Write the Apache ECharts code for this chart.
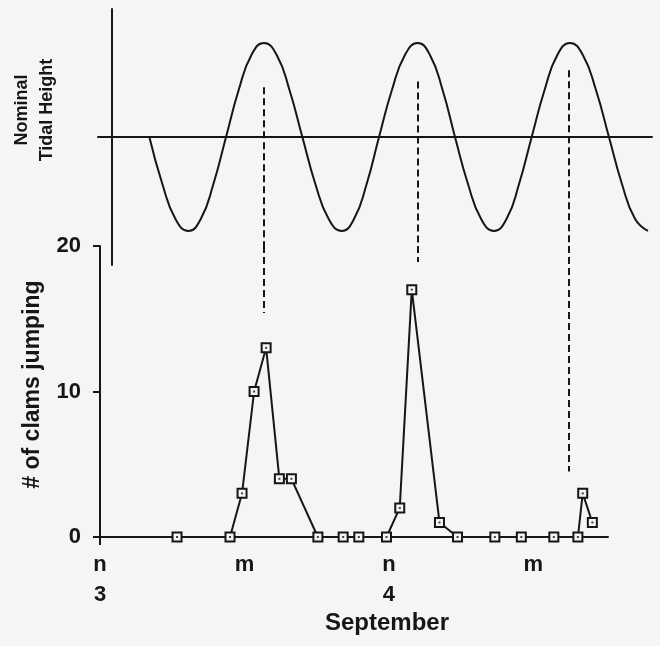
<!DOCTYPE html>
<html>
<head>
<meta charset="utf-8">
<script src="https://cdn.jsdelivr.net/npm/echarts@6/dist/echarts.min.js"></script>
<style>
  html, body { margin: 0; padding: 0; background: #f6f5f3; }
  #chart { width: 660px; height: 646px; }
</style>
</head>
<body>
<div id="chart"></div>
<script>
// hours after noon on 3 September
const clamHours = [6.4, 10.8, 11.8, 12.8, 13.8, 14.9, 15.9, 18.1, 20.2, 21.5, 23.8, 24.9, 25.9, 28.2, 29.7, 32.8, 35.0, 37.7, 39.7, 40.1, 40.9];
const clamCounts = [0, 0, 3, 10, 13, 4, 4, 0, 0, 0, 0, 2, 17, 1, 0, 0, 0, 0, 0, 3, 1];

// nominal tide, points
const tideHours = [4.10, 5.18, 6.26, 7.34, 8.38, 9.42, 10.47, 11.52, 12.57, 13.62,
  14.69, 15.74, 16.81, 17.89, 18.99, 20.08, 21.11, 22.15, 23.18, 24.25,
  25.32, 26.39, 27.42, 28.46, 29.49, 30.57, 31.65, 32.73, 33.78, 34.81,
  35.86, 36.93, 37.98, 39.04, 40.12, 41.20, 42.28, 43.36, 44.44, 45.52];
const tideLevels = [0, -0.5, -0.87, -1, -0.87, -0.5, 0, 0.5, 0.87, 1,
  0.87, 0.5, 0, -0.5, -0.87, -1, -0.87, -0.5, 0, 0.5,
  0.87, 1, 0.87, 0.5, 0, -0.5, -0.87, -1, -0.87, -0.5,
  0, 0.5, 0.87, 1, 0.87, 0.5, 0, -0.5, -0.87, -1];

// dashed links from each high tide down towards the clam peak
const highTideHours = [13.6, 26.4, 38.9];
const linkTideTop = [0.53, 0.59, 0.71];
const linkClamBottom = [15.4, 18.9, 4.5];

const tickHours = [0, 12, 24, 36];
const tickLabels = ['n\n3', 'm', 'n\n4', 'm'];

const INK = '#161616';
const PAPER = '#f6f5f3';
const FONT = 'Liberation Sans';

// layout (pixels)
const bottomGrid = { left: 100, right: 52, top: 246, height: 291 };
const topGrid = { left: 98, right: 8, top: 9, height: 256 };
const hourMax = 42.2;
const pxPerHour = (660 - bottomGrid.left - bottomGrid.right) / hourMax;
const topMin = -(bottomGrid.left - topGrid.left) / pxPerHour;
const topMax = topMin + (660 - topGrid.left - topGrid.right) / pxPerHour;
const tideRange = 1.362;
// tide value at the top edge of the lower plot
const tideAtSplit = tideRange - (bottomGrid.top - topGrid.top) / topGrid.height * 2 * tideRange;

const dashStyle = { color: INK, width: 2, type: [7, 4] };
const clamPoints = clamHours.map((h, i) => [h, clamCounts[i]]);

const chart = echarts.init(document.getElementById('chart'));

chart.setOption({
  backgroundColor: PAPER,
  animation: false,
  grid: [
    { left: topGrid.left, right: topGrid.right, top: topGrid.top, height: topGrid.height },
    { left: bottomGrid.left, right: bottomGrid.right, top: bottomGrid.top, height: bottomGrid.height },
  ],
  xAxis: [
    {
      gridIndex: 0,
      type: 'value',
      min: topMin,
      max: topMax,
      axisLine: { onZero: true, lineStyle: { color: INK, width: 2 } },
      axisTick: { show: false },
      axisLabel: { show: false },
      splitLine: { show: false },
    },
    {
      gridIndex: 1,
      type: 'value',
      min: 0,
      max: hourMax,
      name: 'September',
      nameLocation: 'middle',
      nameGap: 69,
      nameTextStyle: {
        fontFamily: FONT, fontWeight: 'bold', fontSize: 24, color: INK,
        padding: [0, 0, 0, 66],
      },
      axisLine: { onZero: false, lineStyle: { color: INK, width: 2 } },
      axisTick: { show: true, customValues: [0], length: 8, lineStyle: { color: INK, width: 2 } },
      axisLabel: {
        customValues: tickHours,
        formatter: (v) => tickLabels[tickHours.indexOf(v)] || '',
        fontFamily: FONT, fontWeight: 'bold', fontSize: 22, color: INK,
        lineHeight: 30, margin: 13,
      },
      splitLine: { show: false },
    },
  ],
  yAxis: [
    {
      gridIndex: 0,
      type: 'value',
      min: -tideRange,
      max: tideRange,
      offset: -14,
      name: 'Nominal\nTidal Height',
      nameLocation: 'middle',
      nameGap: 52,
      nameTextStyle: {
        fontFamily: FONT, fontWeight: 'bold', fontSize: 18, color: INK,
        lineHeight: 25, padding: [0, 0, 0, 54],
      },
      axisLine: { show: true, onZero: false, lineStyle: { color: INK, width: 2 } },
      axisTick: { show: false },
      axisLabel: { show: false },
      splitLine: { show: false },
    },
    {
      gridIndex: 1,
      type: 'value',
      min: 0,
      max: 20,
      interval: 10,
      name: '# of clams jumping',
      nameLocation: 'middle',
      nameGap: 56,
      nameTextStyle: {
        fontFamily: FONT, fontWeight: 'bold', fontSize: 23, color: INK,
        padding: [0, 0, 0, 14],
      },
      axisLine: { show: true, lineStyle: { color: INK, width: 2 } },
      axisTick: { show: true, length: 7, lineStyle: { color: INK, width: 2 } },
      axisLabel: {
        fontFamily: FONT, fontWeight: 'bold', fontSize: 22, color: INK, margin: 19,
      },
      splitLine: { show: false },
    },
  ],
  series: [
    {
      type: 'line',
      xAxisIndex: 0,
      yAxisIndex: 0,
      data: tideHours.map((h, i) => [h, tideLevels[i]]),
      smooth: 0.5,
      showSymbol: false,
      lineStyle: { color: INK, width: 2 },
      markLine: {
        silent: true,
        symbol: 'none',
        label: { show: false },
        lineStyle: dashStyle,
        data: highTideHours.map((h, i) => [
          { coord: [h, linkTideTop[i]] },
          { coord: [h, tideAtSplit] },
        ]),
      },
    },
    {
      type: 'line',
      xAxisIndex: 1,
      yAxisIndex: 1,
      data: clamPoints,
      symbol: 'rect',
      symbolSize: 9,
      lineStyle: { color: INK, width: 2 },
      itemStyle: { color: PAPER, borderColor: INK, borderWidth: 2 },
      z: 3,
      markLine: {
        silent: true,
        symbol: 'none',
        label: { show: false },
        lineStyle: dashStyle,
        data: highTideHours.map((h, i) => [
          { coord: [h, 20] },
          { coord: [h, linkClamBottom[i]] },
        ]),
      },
    },
    {
      // centre dot of each marker
      type: 'scatter',
      xAxisIndex: 1,
      yAxisIndex: 1,
      data: clamPoints,
      symbol: 'rect',
      symbolSize: 2,
      itemStyle: { color: INK },
      z: 4,
    },
  ],
});
</script>
</body>
</html>
